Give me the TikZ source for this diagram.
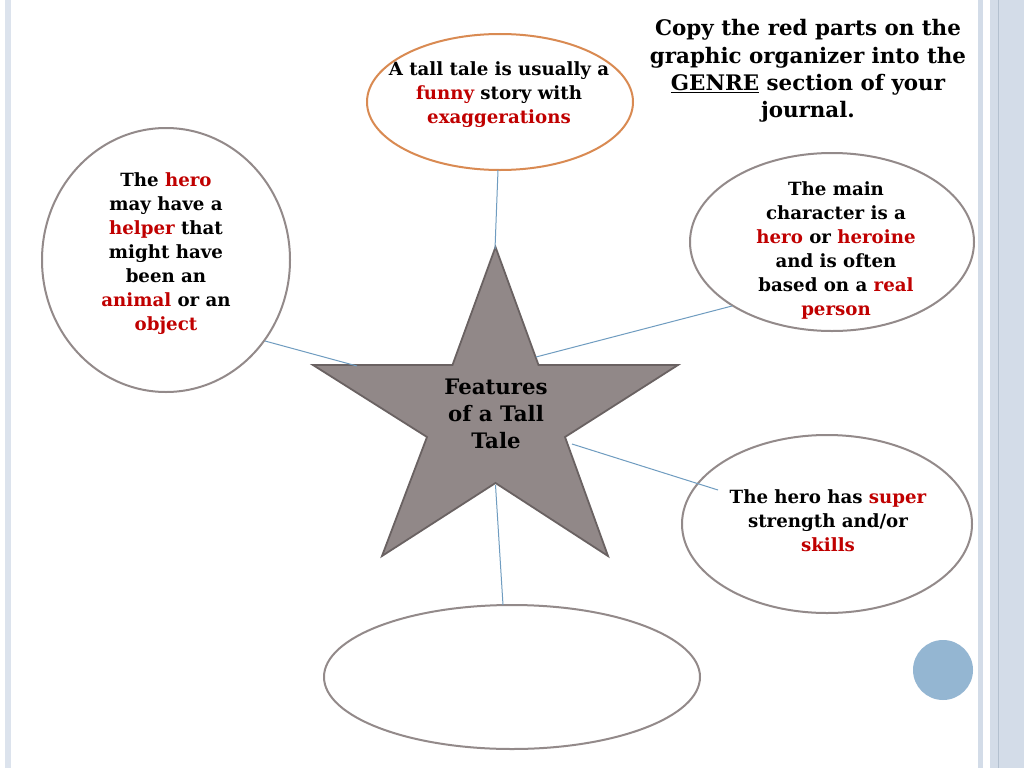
\documentclass[tikz,border=0pt]{standalone}
\usepackage{fontspec}
\setmainfont{DejaVu Serif}
\usetikzlibrary{shapes.geometric}
\definecolor{tred}{HTML}{C00000}
\definecolor{edgegray}{HTML}{938A8A}
\definecolor{orangeedge}{HTML}{D98A52}
\definecolor{linkblue}{HTML}{6F9CC0}
\definecolor{starfill}{HTML}{918888}
\definecolor{staredge}{HTML}{6A6262}
\definecolor{stripe}{HTML}{D3DCE8}
\definecolor{stripedark}{HTML}{B3C0CF}
\definecolor{dotblue}{HTML}{94B6D2}
\newcommand\rd[1]{\textcolor{tred}{#1}}
\tikzset{
  bubble/.style={draw=edgegray, line width=2pt, ellipse, inner sep=0pt},
  body/.style={align=center, font=\bfseries\fontsize{18.2}{24}\selectfont, inner sep=0pt},
  link/.style={draw=linkblue, line width=1pt},
}
\begin{document}
\begin{tikzpicture}[x=1pt,y=-1pt]
\useasboundingbox (0,0) rectangle (1024,768);
\fill[white] (0,0) rectangle (1024,768);
% side stripes
\fill[stripe!80!white] (5,0) rectangle (11,768);
\fill[stripe] (978,0) rectangle (983,768);
\fill[stripe] (990,0) rectangle (1024,768);
\draw[stripedark, line width=0.8pt] (998,0) -- (998,768);
\fill[dotblue] (943,670) circle (30);

% ellipses
\node[bubble, draw=orangeedge, minimum width=266, minimum height=136] (top) at (500,102) {};
\node[bubble, minimum width=248, minimum height=264] (left) at (166,260) {};
\node[bubble, minimum width=284, minimum height=178] (rtop) at (832,242) {};
\node[bubble, minimum width=290, minimum height=178] (rbot) at (827,524) {};
\node[bubble, minimum width=376, minimum height=144] (bot) at (512,677) {};

% star
\coordinate (sT) at (495.5,247);
\coordinate (sL) at (313,365);
\coordinate (sR) at (678,365);
\coordinate (sBL) at (382,556);
\coordinate (sBR) at (608,556);
\coordinate (iTL) at (452.5,365);
\coordinate (iTR) at (538.5,365);
\coordinate (iL) at (427,437);
\coordinate (iR) at (565,437);
\coordinate (iB) at (495.5,483);
\filldraw[fill=starfill, draw=staredge, line width=1.8pt, line join=miter]
  (sT) -- (iTR) -- (sR) -- (iR) -- (sBR) -- (iB) -- (sBL) -- (iL) -- (sL) -- (iTL) -- cycle;

% connector end points on the star
\coordinate (cT) at (495,249);
\coordinate (cL) at (357,366);
\coordinate (cRT) at (536,357);
\coordinate (cRB) at (572,444);
\coordinate (cB) at (495.5,485);
\coordinate (eL) at (265,341);
\coordinate (eRT) at (732,306);
\coordinate (eRB) at (718,490);
\coordinate (eB) at (503,605);
\coordinate (eT) at (498,170);

\draw[link] (cT) -- (eT);
\draw[link] (cL) -- (eL);
\draw[link] (cRT) -- (eRT);
\draw[link] (cRB) -- (eRB);
\draw[link] (cB) -- (eB);

% texts
\node[body, font=\bfseries\fontsize{21.3}{27}\selectfont] (startext) at (496,414) {Features\\of a Tall\\Tale};
\node[body] (toptext) at (499,95) {A tall tale is usually a\\\rd{funny} story with\\\rd{exaggerations}};
\node[body] (lefttext) at (166,254) {The \rd{hero}\\may have a\\\rd{helper} that\\might have\\been an\\\rd{animal} or an\\\rd{object}};
\node[body] (rtoptext) at (836,250) {The main\\character is a\\\rd{hero} or \rd{heroine}\\and is often\\based on a \rd{real}\\\rd{person}};
\node[body] (rbottext) at (828,521) {The hero has \rd{super}\\strength and/or\\\rd{skills}};
\node[body, font=\bfseries\fontsize{21.4}{27.3}\selectfont] (title) at (808,71) {Copy the red parts on the\\graphic organizer into the\\\underline{GENRE} section of your\\journal.};
\end{tikzpicture}
\end{document}
